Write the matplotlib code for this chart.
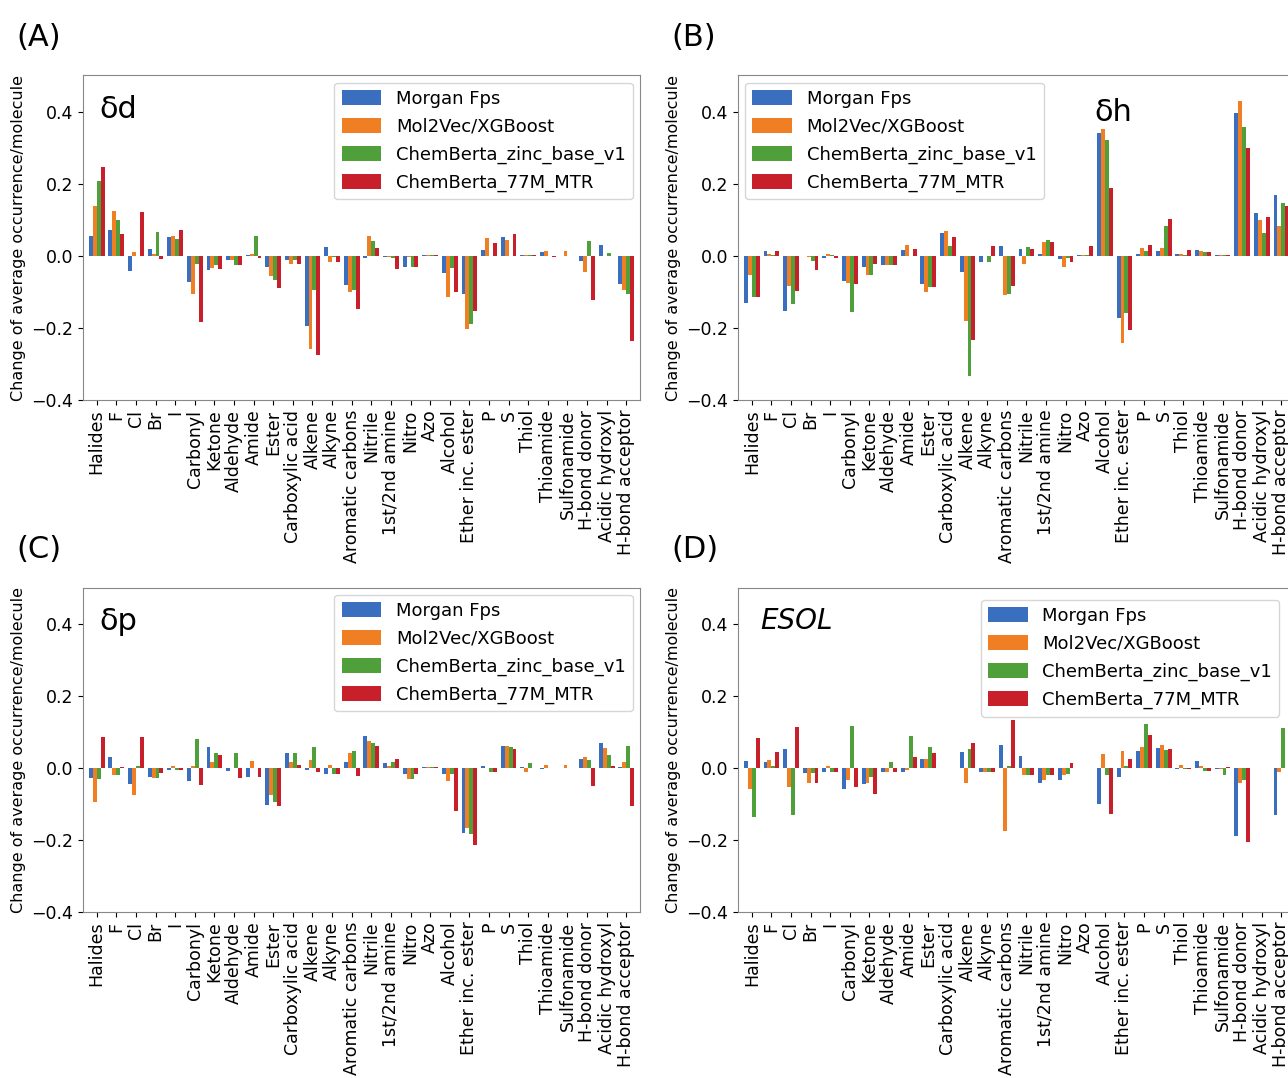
import matplotlib
matplotlib.use("Agg")
import matplotlib.pyplot as plt
import numpy as np

categories = ["Halides", "F", "Cl", "Br", "I", "Carbonyl", "Ketone", "Aldehyde", "Amide", "Ester",
              "Carboxylic acid", "Alkene", "Alkyne", "Aromatic carbons", "Nitrile", "1st/2nd amine",
              "Nitro", "Azo", "Alcohol", "Ether inc. ester", "P", "S", "Thiol", "Thioamide",
              "Sulfonamide", "H-bond donor", "Acidic hydroxyl", "H-bond acceptor"]
series = ["Morgan Fps", "Mol2Vec/XGBoost", "ChemBerta_zinc_base_v1", "ChemBerta_77M_MTR"]
colors = ["#3a6fbf", "#ef7f22", "#4fa03a", "#c8202a"]

# delta d
dd_morgan = [0.056, 0.07, -0.043, 0.018, 0.051, -0.072, -0.04, -0.011, 0.003, -0.031, -0.011, -0.194, 0.024, -0.08,
             -0.007, -0.004, -0.031, 0.002, -0.047, -0.105, 0.016, 0.052, 0.002, 0.01, 0.0, -0.015, 0.029, -0.078]
dd_mol2vec = [0.138, 0.124, 0.011, 0.004, 0.054, -0.106, -0.035, -0.011, 0.005, -0.057, -0.022, -0.26, -0.018, -0.1,
              0.054, -0.004, -0.004, 0.002, -0.115, -0.203, 0.05, 0.043, 0.002, 0.013, 0.013, -0.044, 0.0, -0.095]
dd_zinc = [0.206, 0.10, 0.0, 0.067, 0.046, -0.022, -0.026, -0.027, 0.056, -0.066, -0.011, -0.094, -0.004, -0.094,
           0.041, -0.007, -0.031, 0.002, -0.033, -0.188, 0.0, 0.0, 0.002, 0.0, 0.0, 0.041, 0.008, -0.107]
dd_77m = [0.247, 0.061, 0.122, -0.008, 0.07, -0.185, -0.038, -0.027, -0.007, -0.089, -0.022, -0.274, -0.018, -0.148,
          0.022, -0.036, -0.031, 0.002, -0.1, -0.154, 0.035, 0.059, 0.002, -0.004, 0.0, -0.124, 0.0, -0.237]

# delta h
dh_morgan = [-0.13, 0.012, -0.153, 0.0, -0.006, -0.069, -0.032, -0.027, 0.015, -0.078, 0.063, -0.044, -0.018, 0.028,
             0.019, 0.006, -0.01, 0.002, 0.34, -0.174, 0.006, 0.013, 0.005, 0.015, 0.001, 0.395, 0.118, 0.168]
dh_mol2vec = [-0.053, 0.005, -0.083, -0.003, 0.006, -0.076, -0.053, -0.027, 0.029, -0.102, 0.068, -0.18, 0.0, -0.108,
              -0.023, 0.037, -0.032, 0.002, 0.352, -0.241, 0.022, 0.022, 0.004, 0.013, 0.001, 0.428, 0.1, 0.083]
dh_zinc = [-0.115, 0.003, -0.133, -0.014, 0.003, -0.157, -0.053, -0.027, 0.0, -0.087, 0.026, -0.333, -0.018, -0.105,
           0.025, 0.044, -0.005, 0.002, 0.321, -0.159, 0.013, 0.083, 0.002, 0.009, 0.001, 0.356, 0.062, 0.145]
dh_77m = [-0.115, 0.012, -0.097, -0.039, -0.006, -0.078, -0.022, -0.027, 0.019, -0.088, 0.052, -0.233, 0.028, -0.085,
          0.019, 0.039, -0.017, 0.027, 0.187, -0.205, 0.031, 0.102, 0.017, 0.011, 0.001, 0.3, 0.108, 0.138]

# delta p
dp_morgan = [-0.027, 0.031, -0.044, -0.025, -0.006, -0.036, 0.058, -0.01, -0.025, -0.104, 0.04, -0.005, -0.018, 0.016,
             0.087, 0.012, -0.016, 0.001, -0.016, -0.182, 0.004, 0.061, 0.003, -0.004, 0.0, 0.024, 0.068, 0.003]
dp_mol2vec = [-0.094, -0.019, -0.075, -0.027, 0.005, 0.005, 0.016, 0.0, 0.018, -0.076, 0.015, 0.021, 0.007, 0.041,
              0.073, 0.005, -0.031, 0.001, -0.038, -0.168, 0.0, 0.061, -0.013, 0.009, 0.009, 0.031, 0.054, 0.015]
dp_zinc = [-0.03, -0.019, 0.005, -0.027, -0.006, 0.08, 0.041, 0.041, 0.0, -0.094, 0.041, 0.058, -0.018, 0.047,
           0.069, 0.015, -0.031, 0.001, -0.016, -0.184, -0.013, 0.058, 0.013, 0.0, 0.0, 0.021, 0.036, 0.061]
dp_77m = [0.084, 0.003, 0.084, -0.014, -0.006, -0.047, 0.035, -0.027, -0.025, -0.107, 0.009, -0.013, -0.018, -0.023,
          0.061, 0.025, -0.018, 0.001, -0.119, -0.215, -0.013, 0.051, 0.0, 0.0, 0.0, -0.05, 0.006, -0.106]

# ESOL
es_morgan = [0.02, 0.015, 0.052, -0.015, -0.013, -0.059, -0.046, -0.013, -0.011, 0.023, 0.0, 0.044, -0.013, 0.062,
             0.034, -0.043, -0.035, 0.0, -0.1, -0.026, 0.046, 0.056, -0.004, 0.019, -0.004, -0.188, 0.0, -0.13]
es_mol2vec = [-0.059, 0.022, -0.052, -0.043, 0.004, -0.033, -0.042, -0.013, -0.007, 0.023, 0.0, -0.041, -0.013, -0.176,
              -0.019, -0.035, -0.019, 0.0, 0.039, 0.046, 0.057, 0.062, 0.009, 0.006, -0.004, -0.041, 0.0, -0.011]
es_zinc = [-0.137, 0.006, -0.13, -0.015, -0.013, 0.116, -0.026, 0.016, 0.087, 0.059, 0.0, 0.051, -0.013, 0.006,
           -0.019, -0.019, -0.017, 0.0, -0.02, 0.004, 0.122, 0.048, -0.004, -0.009, -0.019, -0.035, 0.0, 0.111]
es_77m = [0.082, 0.044, 0.113, -0.043, -0.013, -0.052, -0.074, -0.013, 0.031, 0.041, 0.0, 0.069, -0.013, 0.133,
          -0.019, -0.02, 0.013, 0.0, -0.128, 0.025, 0.09, 0.052, -0.004, -0.009, 0.001, -0.206, 0.0, 0.0]

panels = [
    ("(A)", "δd", [dd_morgan, dd_mol2vec, dd_zinc, dd_77m], (0.0644, 0.629, 0.4325, 0.301), "upper right", None),
    ("(B)", "δh", [dh_morgan, dh_mol2vec, dh_zinc, dh_77m], (0.573, 0.629, 0.4325, 0.301), "upper left", None),
    ("(C)", "δp", [dp_morgan, dp_mol2vec, dp_zinc, dp_77m], (0.0644, 0.154, 0.4325, 0.301), "upper right", None),
    ("(D)", "ESOL", [es_morgan, es_mol2vec, es_zinc, es_77m], (0.573, 0.154, 0.4325, 0.301), "upper left", (0.42, 0.99)),
]

fig = plt.figure(figsize=(12.88, 10.78), dpi=100)
x = np.arange(len(categories))
w = 0.2
for label, title, data, rect, loc, anchor in panels:
    ax = fig.add_axes(rect)
    for i, (vals, name, c) in enumerate(zip(data, series, colors)):
        ax.bar(x + (i - 1.5) * w, vals, w, color=c, label=name)
    ax.set_ylim(-0.4, 0.5)
    ax.set_yticks([-0.4, -0.2, 0.0, 0.2, 0.4])
    ax.set_xlim(-0.7, len(categories) - 0.3)
    ax.set_xticks(x)
    ax.set_xticklabels(categories, rotation=90, fontsize=12.5)
    ax.tick_params(axis='y', labelsize=12.5)
    ax.set_ylabel("Change of average occurrence/molecule", fontsize=11.5)
    for s in ax.spines.values():
        s.set_color("#888888")
    kw = dict(fontsize=13, handlelength=2.2, handleheight=0.9, labelspacing=0.55)
    if anchor is None:
        ax.legend(loc=loc, borderaxespad=0.4, **kw)
    else:
        ax.legend(loc="upper left", bbox_to_anchor=anchor, **kw)
    if title == "δh":
        ax.text(0.64, 0.93, title, transform=ax.transAxes, fontsize=22, va="top")
    elif title == "ESOL":
        ax.text(0.04, 0.94, title, transform=ax.transAxes, fontsize=20, va="top", style="italic")
    else:
        ax.text(0.03, 0.94, title, transform=ax.transAxes, fontsize=22, va="top")
    fig.text(rect[0] - 0.052, rect[1] + rect[3] + 0.022, label, fontsize=22, va="bottom")

fig.savefig("out.png", dpi=100)
